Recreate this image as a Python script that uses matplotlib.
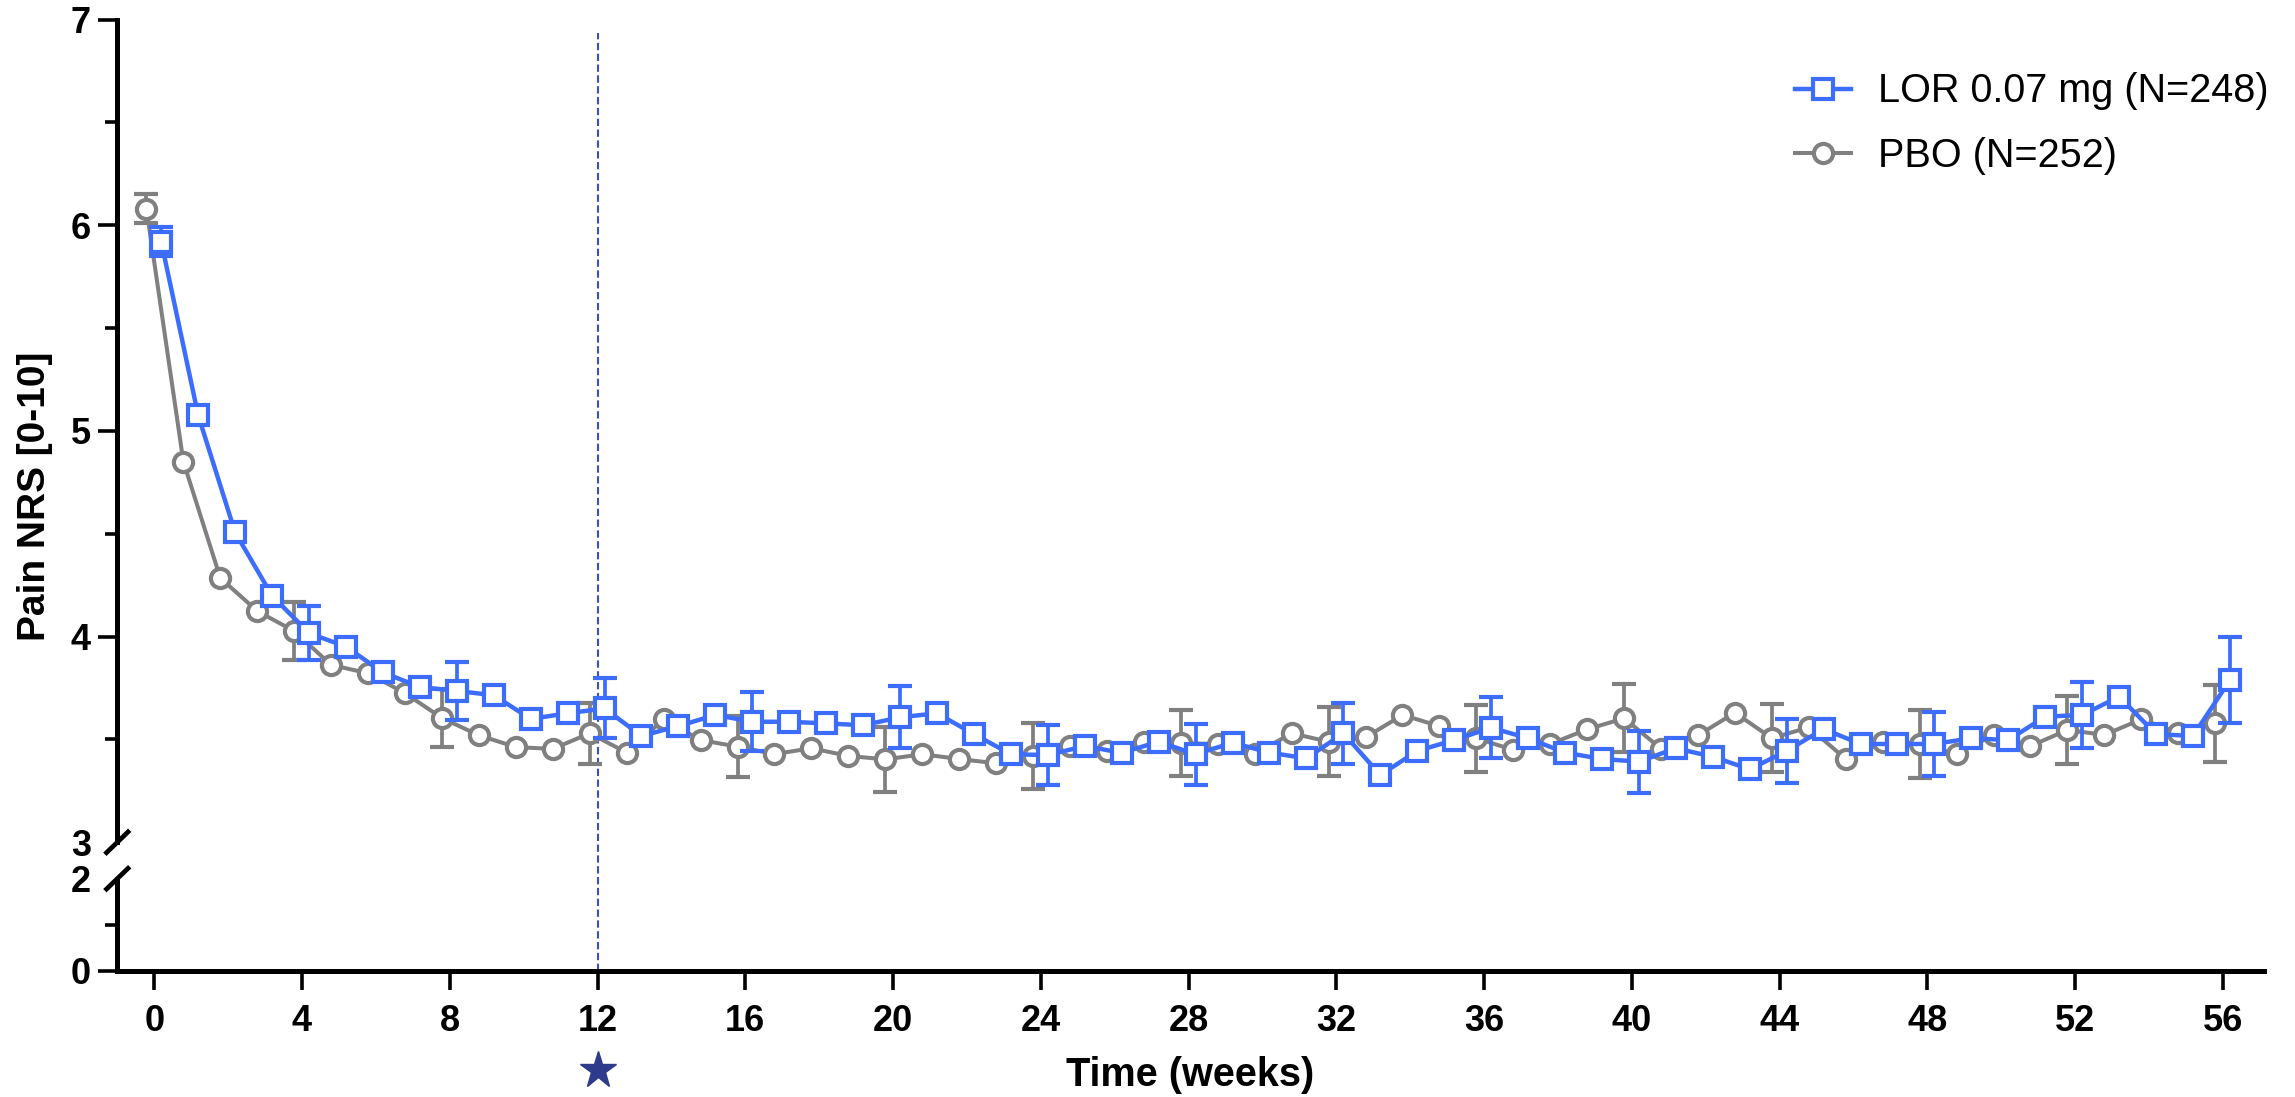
import numpy as np
import matplotlib
matplotlib.use("Agg")
import matplotlib.pyplot as plt

plt.rcParams['font.family'] = ['Liberation Sans', 'DejaVu Sans']

# weekly means, weeks 0..56
weeks = np.arange(0, 57)
lor_mean = [5.92, 5.076, 4.507, 4.199, 4.017, 3.951, 3.826, 3.755, 3.736, 3.715,
            3.60, 3.627, 3.651, 3.517, 3.565, 3.619, 3.586, 3.586, 3.578, 3.569,
            3.608, 3.627, 3.526, 3.428, 3.424, 3.468, 3.435, 3.489, 3.428, 3.484,
            3.436, 3.408, 3.530, 3.327, 3.444, 3.497, 3.557, 3.506, 3.436, 3.405,
            3.392, 3.457, 3.416, 3.355, 3.444, 3.551, 3.478, 3.478, 3.478, 3.506,
            3.497, 3.611, 3.619, 3.708, 3.526, 3.517, 3.789]
pbo_mean = [6.08, 4.85, 4.285, 4.124, 4.027, 3.862, 3.822, 3.725, 3.604, 3.52,
            3.463, 3.454, 3.530, 3.436, 3.598, 3.497, 3.465, 3.429, 3.457, 3.420,
            3.403, 3.428, 3.405, 3.384, 3.420, 3.468, 3.445, 3.489, 3.481, 3.478,
            3.429, 3.53, 3.489, 3.51, 3.619, 3.565, 3.506, 3.449, 3.478, 3.549,
            3.603, 3.455, 3.52, 3.63, 3.506, 3.559, 3.405, 3.486, 3.478, 3.429,
            3.522, 3.468, 3.546, 3.522, 3.598, 3.533, 3.578]

# error bars only every 4 weeks
err_weeks = np.arange(0, 57, 4)
lor_err = [0.07, 0.13, 0.14, 0.146, 0.143, 0.15, 0.146, 0.148, 0.148, 0.148,
           0.15, 0.157, 0.155, 0.161, 0.209]
pbo_err = [0.07, 0.14, 0.14, 0.147, 0.148, 0.157, 0.16, 0.16, 0.168, 0.162,
           0.166, 0.164, 0.166, 0.167, 0.186]

lor_label = "LOR 0.07 mg (N=248)"
pbo_label = "PBO (N=252)"
lor_shift, pbo_shift = 0.19, -0.21
blue = '#3d6dff'
grey = '#808080'
navy = '#2e3a8c'

fig = plt.figure(figsize=(22.95, 10.97), dpi=100)
left, width = 0.0511, 0.9352
ax = fig.add_axes([left, 0.2322, width, 0.7499])
axl = fig.add_axes([left, 0.1149, width, 0.0841])
axl.patch.set_visible(False)

xlim = (-1.0, 57.1)
for a in (ax, axl):
    a.set_xlim(*xlim)
    a.spines['top'].set_visible(False)
    a.spines['right'].set_visible(False)
    a.spines['left'].set_linewidth(3.6)
    a.tick_params(axis='both', which='major', direction='out', length=14,
                  width=2.6, labelsize=26, pad=5)
    a.tick_params(axis='y', which='minor', direction='out', length=8.5, width=2.6)
ax.spines['bottom'].set_visible(False)
ax.tick_params(axis='x', which='both', bottom=False, labelbottom=False)

ax.set_ylim(3, 7)
ax.set_yticks([3, 4, 5, 6, 7])
ax.set_yticks([3.5, 4.5, 5.5, 6.5], minor=True)
ax.yaxis.get_major_ticks()[0].tick1line.set_visible(False)

axl.set_ylim(0, 2)
axl.set_yticks([0, 2])
axl.set_yticks([1], minor=True)
axl.yaxis.get_major_ticks()[1].tick1line.set_visible(False)
axl.spines['bottom'].set_linewidth(3.6)
axl.set_xticks(np.arange(0, 57, 4))
axl.tick_params(axis='x', pad=10)
for lab in axl.get_xticklabels() + axl.get_yticklabels() + ax.get_yticklabels():
    lab.set_fontweight('bold')

# data
pbo_x = weeks + pbo_shift
lor_x = weeks + lor_shift
ax.errorbar(err_weeks + pbo_shift, np.array(pbo_mean)[err_weeks], yerr=pbo_err,
            fmt='none', ecolor=grey, elinewidth=2.7, capsize=8.3, capthick=3.0,
            zorder=2, clip_on=False)
ax.plot(pbo_x, pbo_mean, '-o', color=grey, lw=2.9, ms=13.8, mew=3.0,
        mfc='white', mec=grey, label=pbo_label, zorder=3, clip_on=False)
ax.errorbar(err_weeks + lor_shift, np.array(lor_mean)[err_weeks], yerr=lor_err,
            fmt='none', ecolor=blue, elinewidth=2.7, capsize=8.3, capthick=3.0,
            zorder=4, clip_on=False)
ax.plot(lor_x, lor_mean, '-s', color=blue, lw=3.2, ms=13.8, mew=3.0,
        mfc='white', mec=blue, label=lor_label, zorder=5, clip_on=False)

# week 12 reference line spanning both panels
ax.axvline(12, ymin=-0.1564, ymax=0.9837, color='#3f4fb8', lw=1.5,
           dashes=(3.5, 1.7), clip_on=False, zorder=1)
axl.plot([12], [-1.07], marker='*', ms=28, color=navy, mec=navy,
         transform=axl.get_xaxis_transform(), clip_on=False)

# axis break marks
dx = 0.0058
ax.plot([-dx, dx], [-0.0146, 0.0146], color='black', lw=3.4,
        transform=ax.transAxes, clip_on=False, solid_capstyle='butt')
axl.plot([-dx, dx], [1 - 0.13, 1 + 0.13], color='black', lw=3.4,
         transform=axl.transAxes, clip_on=False, solid_capstyle='butt')

axl.set_xlabel("Time (weeks)", fontsize=28.5, fontweight='bold', labelpad=12)
fig.text(0.0152, 0.548, "Pain NRS [0-10]", rotation=90, ha='center', va='center',
         fontsize=28, fontweight='bold')

h, l = ax.get_legend_handles_labels()
ax.legend(h[::-1], l[::-1], loc='upper left', bbox_to_anchor=(0.7821, 0.934),
          bbox_transform=fig.transFigure, frameon=False, borderpad=0,
          borderaxespad=0, handlelength=1.41, handletextpad=0.69,
          labelspacing=0.68, fontsize=28.5)

fig.savefig("out.png", dpi=100)
